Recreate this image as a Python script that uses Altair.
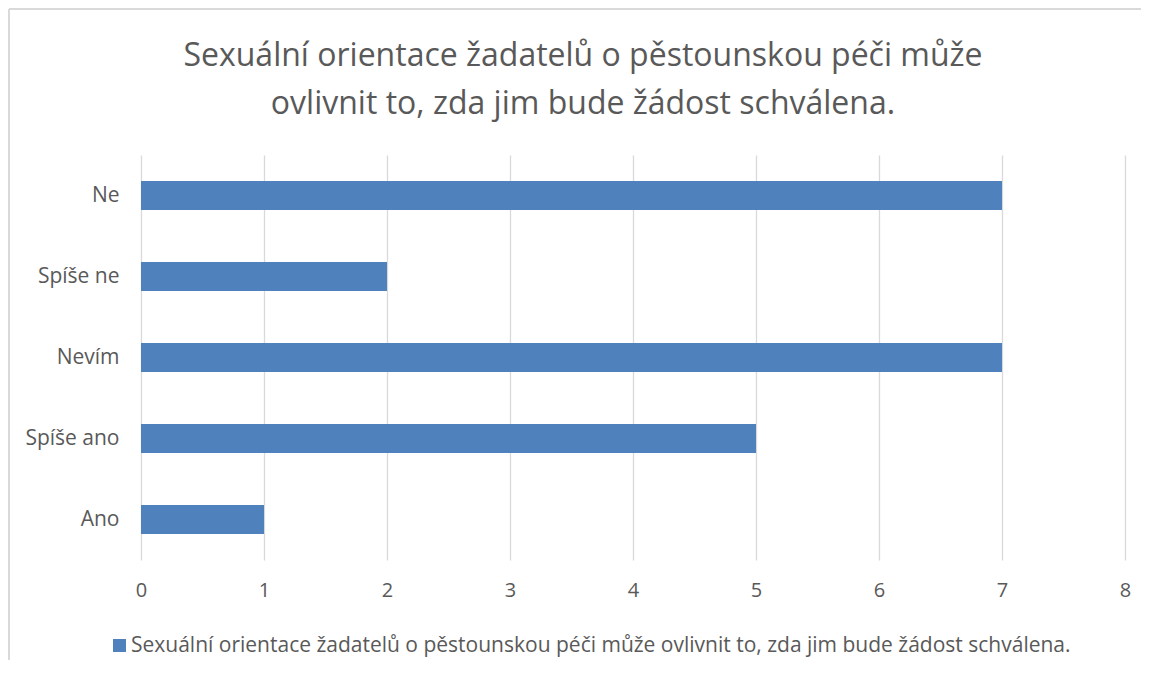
import altair as alt
import pandas as pd

categories = ["Ne", "Spíše ne", "Nevím", "Spíše ano", "Ano"]
values = [7, 2, 7, 5, 1]
series_name = "Sexuální orientace žadatelů o pěstounskou péči může ovlivnit to, zda jim bude žádost schválena."
title_lines = ["Sexuální orientace žadatelů o pěstounskou péči může",
               "ovlivnit to, zda jim bude žádost schválena."]
x_ticks = [0, 1, 2, 3, 4, 5, 6, 7, 8]

df = pd.DataFrame({"cat": categories, "val": values, "series": [series_name] * len(categories)})

FONT = "Open Sans"
GREY = "#595959"

bars = alt.Chart(df).mark_bar(color="#4f81bd").encode(
    y=alt.Y("cat:N", sort=categories, title=None,
            scale=alt.Scale(paddingInner=0.64, paddingOuter=0.32),
            axis=alt.Axis(labelFont=FONT, labelFontSize=21, labelColor=GREY,
                          labelPadding=22, ticks=False, domain=False, grid=False)),
    x=alt.X("val:Q", title=None,
            scale=alt.Scale(domain=[0, 8], nice=False),
            axis=alt.Axis(values=x_ticks, labelFont=FONT, labelFontSize=20, labelColor=GREY,
                          labelPadding=20, labelFlush=False, ticks=False, domain=False, grid=True,
                          gridColor="#d9d9d9", gridWidth=1.3, format="d")),
    color=alt.Color("series:N", scale=alt.Scale(range=["#4f81bd"]),
                    legend=alt.Legend(title=None, orient="none", legendX=-32, legendY=480,
                                      symbolType="square", symbolSize=169, padding=0,
                                      labelOffset=1,
                                      labelFont=FONT, labelFontSize=21, labelColor=GREY,
                                      labelLimit=2000, symbolStrokeWidth=0)),
)

frame_left = alt.Chart(df).mark_rule(stroke="#d9d9d9", strokeWidth=1.5).encode(
    x=alt.value(-132), y=alt.value(-146), y2=alt.value(700)
)
frame_top = alt.Chart(df).mark_rule(stroke="#d9d9d9", strokeWidth=1.5).encode(
    x=alt.value(-132), x2=alt.value(1100), y=alt.value(-146)
)

chart = alt.layer(frame_left, frame_top, bars).properties(
    width=984, height=405,
    padding={"left": 133, "top": 147, "right": 16, "bottom": 100},
    autosize=alt.AutoSizeParams(type="none"),
    title=alt.TitleParams(title_lines, font=FONT, fontSize=32, fontWeight="normal",
                          color=GREY, anchor="middle", frame="group", dx=-50, offset=-145,
                          baseline="bottom", lineHeight=48),
).configure_view(stroke=None)

chart.save("out.html", embed_options={"renderer": "svg", "actions": False})
